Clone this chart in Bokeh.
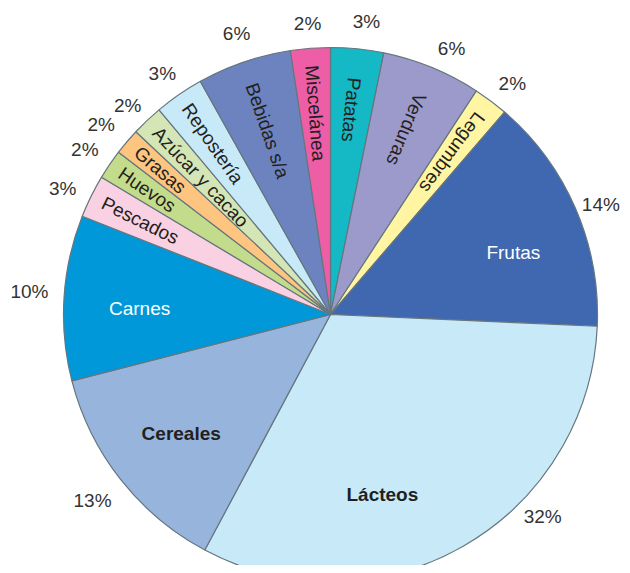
import math
from bokeh.plotting import figure
from bokeh.models import ColumnDataSource, Range1d
from bokeh.embed import file_html
from bokeh.resources import INLINE
from bokeh.core.properties import value

# ---- data (clockwise from 12 o'clock) ----
categories = ["Patatas", "Verduras", "Legumbres", "Frutas", "Lácteos", "Cereales",
              "Carnes", "Pescados", "Huevos", "Grasas", "Azúcar y cacao",
              "Repostería", "Bebidas s/a", "Miscelánea"]
shares = [3.2, 6.0, 2.1, 14.4, 32.1, 13.2, 10.0, 2.6, 1.8, 1.6, 1.9, 3.0, 5.7, 2.4]
pct_labels = ["3%", "6%", "2%", "14%", "32%", "13%", "10%", "3%", "2%", "2%", "2%",
              "3%", "6%", "2%"]
colors = ["#14B9C5", "#9C9ACB", "#FFF5A3", "#3F68B1", "#C7E9F8", "#96B4DC",
          "#0098D8", "#F9D1E2", "#C2DC8B", "#FDC57F", "#D4E6B6", "#C8E9F8",
          "#6C83BF", "#EE5EA6"]

# ---- layout / style ----
CX, CY, R = 330, 259, 267
FONT = "Liberation Sans"
horizontal = {  # label: (angle deg, radius, color, weight)
    "Frutas": (18.7, 193, "white", "normal"),
    "Lácteos": (-73.9, 187, "#231f20", "bold"),
    "Cereales": (218.6, 191, "#231f20", "bold"),
    "Carnes": (178.2, 191, "white", "normal"),
}
radial_r = {"Patatas": 238, "Verduras": 238, "Bebidas s/a": 244,
            "Miscelánea": 250, "Legumbres": 250}
# placement of percentage labels (angle deg, radius) around the pie
pct_place = {
    "Patatas": (83.0, 295), "Verduras": (65.5, 292), "Legumbres": (51.8, 294),
    "Frutas": (22.2, 292), "Lácteos": (-43.6, 293), "Cereales": (218.0, 302),
    "Carnes": (175.6, 302), "Pescados": (154.8, 296), "Huevos": (146.1, 296),
    "Grasas": (140.3, 298), "Azúcar y cacao": (134.2, 291),
    "Repostería": (124.9, 294), "Bebidas s/a": (108.5, 296),
    "Miscelánea": (94.5, 292),
}

total = sum(shares)
starts, ends, mids = [], [], []
cum = 0.0
for v in shares:
    s = math.pi / 2 - 2 * math.pi * cum / total
    e = math.pi / 2 - 2 * math.pi * (cum + v) / total
    starts.append(s); ends.append(e); mids.append((s + e) / 2)
    cum += v

src = ColumnDataSource(dict(cat=categories, start=starts, end=ends, color=colors))

p = figure(width=622, height=565, output_backend="svg", toolbar_location=None,
           x_range=Range1d(0, 622), y_range=Range1d(8, 573), min_border=0)
p.axis.visible = False
p.grid.visible = False
p.outline_line_color = None

p.wedge(x=CX, y=CY, radius=R, start_angle="start", end_angle="end",
        direction="clock", fill_color="color", line_color="#66767f",
        line_width=1.2, source=src)

rx, ry, rt, ra = [], [], [], []
hx, hy, ht, hc, hw = [], [], [], [], []
for c, m in zip(categories, mids):
    if c in horizontal:
        ang, rr, col, wt = horizontal[c]
        a = math.radians(ang)
        hx.append(CX + rr * math.cos(a)); hy.append(CY + rr * math.sin(a))
        ht.append(c); hc.append(col); hw.append(wt)
    else:
        rr = radial_r.get(c, 254)
        rx.append(CX + rr * math.cos(m)); ry.append(CY + rr * math.sin(m))
        rt.append(c); ra.append(m + math.pi)

p.text(x=rx, y=ry, text=rt, angle=ra, text_align="left", text_baseline="middle",
       text_font=value(FONT), text_font_size="19px", text_color="#231f20")
hsrc = ColumnDataSource(dict(x=hx, y=hy, t=ht, c=hc, w=hw))
p.text(x="x", y="y", text="t", text_color="c", text_font_style="w",
       text_align="center", text_baseline="middle", text_font=value(FONT),
       text_font_size="19px", source=hsrc)

px, py = [], []
for c in categories:
    ang, rr = pct_place[c]
    a = math.radians(ang)
    px.append(CX + rr * math.cos(a)); py.append(CY + rr * math.sin(a))
p.text(x=px, y=py, text=pct_labels, text_align="center", text_baseline="middle",
       text_font=value(FONT), text_font_size="19px", text_color="#333333")

open("out.html", "w").write(file_html(p, INLINE))
